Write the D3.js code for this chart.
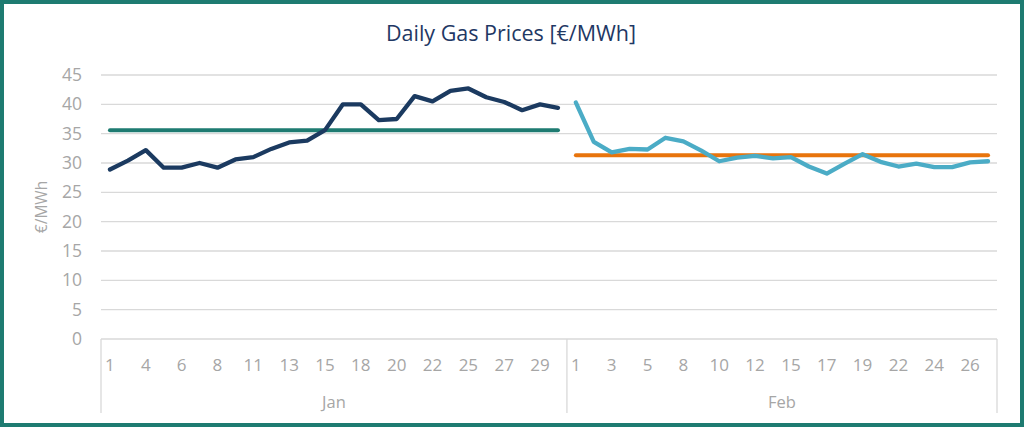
<!DOCTYPE html>
<html>
<head>
<meta charset="utf-8">
<script src="https://cdn.jsdelivr.net/npm/d3@7"></script>
<style>
  body { margin: 0; background: white; }
  text { font-family: "Open Sans", "Liberation Sans", sans-serif; }
</style>
</head>
<body>
<div id="data-vis"></div>
<script>
//DATA
//Trading days shown on the x axis (Sundays left out)
const janDays = [1, 3, 4, 5, 6, 7, 8, 10, 11, 12, 13, 14, 15, 17, 18, 19, 20, 21, 22, 24, 25, 26, 27, 28, 29, 31];
const febDays = [1, 2, 3, 4, 5, 7, 8, 9, 10, 11, 12, 14, 15, 16, 17, 18, 19, 21, 22, 23, 24, 25, 26, 28];

//Daily prices
const janPrices = [28.9, 30.4, 32.2, 29.2, 29.2, 30.0, 29.2, 30.6, 31.0, 32.4, 33.5, 33.8, 35.6,
                   40.0, 40.0, 37.3, 37.5, 41.4, 40.5, 42.3, 42.7, 41.2, 40.4, 39.0, 40.0, 39.4];
const febPrices = [40.3, 33.6, 31.8, 32.4, 32.3, 34.3, 33.7, 32.1, 30.3, 30.9, 31.2, 30.8,
                   31.0, 29.4, 28.2, 29.9, 31.5, 30.2, 29.4, 29.9, 29.3, 29.3, 30.1, 30.3];

//Monthly averages
const janAverage = 35.6;
const febAverage = 31.3;

//Y axis ticks
const yTicks = [0, 5, 10, 15, 20, 25, 30, 35, 40, 45];

//SCRIPT PROPERTIES
const w = 1024;
const h = 427;
const margin = {top: 75, right: 27, bottom: 88, left: 101};

const gridColour = "#d9d9d9";
const labelColour = "#a6a6a6";

//Build categories (one per day, grouped by month)
const categories = [];
janDays.forEach((d, i) => categories.push({key: "Jan-" + d, day: d, month: "Jan", idx: i, value: janPrices[i]}));
febDays.forEach((d, i) => categories.push({key: "Feb-" + d, day: d, month: "Feb", idx: i, value: febPrices[i]}));

const svg = d3.select("#data-vis")
    .append("svg")
    .attr("width", w)
    .attr("height", h);

//Frame
svg.append("rect")
    .attr("x", 2).attr("y", 2)
    .attr("width", w - 4).attr("height", h - 4)
    .attr("fill", "white")
    .attr("stroke", "#1e7b71")
    .attr("stroke-width", 4);

//Scales
const x = d3.scaleBand()
    .domain(categories.map(d => d.key))
    .range([margin.left, w - margin.right])
    .padding(0);

const y = d3.scaleLinear()
    .domain([0, 45])
    .range([h - margin.bottom, margin.top]);

const cx = key => x(key) + x.bandwidth() / 2;

//Title
svg.append("text")
    .attr("x", 511)
    .attr("y", 41)
    .attr("text-anchor", "middle")
    .attr("fill", "#1f3864")
    .style("font-size", "21.5px")
    .text("Daily Gas Prices [€/MWh]");

//Gridlines
svg.append("g")
    .selectAll("line")
    .data(yTicks.filter(t => t > 0))
    .enter()
    .append("line")
    .attr("x1", margin.left)
    .attr("x2", w - margin.right)
    .attr("y1", d => y(d))
    .attr("y2", d => y(d))
    .attr("stroke", gridColour)
    .attr("stroke-width", 1.3);

//Y axis labels
const yAxis = svg.append("g")
    .attr("transform", `translate(${margin.left},0)`)
    .call(d3.axisLeft(y).tickValues(yTicks).tickSize(0).tickPadding(19));
yAxis.select(".domain").remove();
yAxis.selectAll("text")
    .attr("fill", labelColour)
    .style("font-size", "17.5px")
    .style("font-family", "'Open Sans', sans-serif");

//Y axis title
svg.append("text")
    .attr("transform", `translate(47,${(y(0) + y(45)) / 2}) rotate(-90)`)
    .attr("text-anchor", "middle")
    .attr("fill", labelColour)
    .style("font-size", "15.5px")
    .text("€/MWh");

//X axis
const x0 = y(0);
svg.append("line")
    .attr("x1", margin.left).attr("x2", w - margin.right)
    .attr("y1", x0).attr("y2", x0)
    .attr("stroke", gridColour)
    .attr("stroke-width", 1.3);

//Month separators
const monthEdges = [margin.left, x("Feb-1"), w - margin.right];
svg.append("g")
    .selectAll("line")
    .data(monthEdges)
    .enter()
    .append("line")
    .attr("x1", d => d).attr("x2", d => d)
    .attr("y1", x0).attr("y2", 413)
    .attr("stroke", gridColour)
    .attr("stroke-width", 1.3);

//Day labels (every other category)
svg.append("g")
    .selectAll("text")
    .data(categories.filter(d => d.idx % 2 === 0))
    .enter()
    .append("text")
    .attr("x", d => cx(d.key))
    .attr("y", 371)
    .attr("text-anchor", "middle")
    .attr("fill", labelColour)
    .style("font-size", "17px")
    .text(d => d.day);

//Month labels
const months = [
    {name: "Jan", x: (monthEdges[0] + monthEdges[1]) / 2},
    {name: "Feb", x: (monthEdges[1] + monthEdges[2]) / 2}
];
svg.append("g")
    .selectAll("text")
    .data(months)
    .enter()
    .append("text")
    .attr("x", d => d.x)
    .attr("y", 408)
    .attr("text-anchor", "middle")
    .attr("fill", labelColour)
    .style("font-size", "16.5px")
    .text(d => d.name);

//Line generator
const line = d3.line()
    .x(d => cx(d.key))
    .y(d => y(d.value));

const janData = categories.filter(d => d.month === "Jan");
const febData = categories.filter(d => d.month === "Feb");

//Average lines
const drawAverage = (data, avg, colour) => {
    svg.append("path")
        .datum(data.map(d => ({key: d.key, value: avg})))
        .attr("d", line)
        .attr("fill", "none")
        .attr("stroke", colour)
        .attr("stroke-width", 4)
        .attr("stroke-linecap", "round");
};

drawAverage(janData, janAverage, "#1e7b71");
drawAverage(febData, febAverage, "#e8740c");

//Price lines
const drawSeries = (data, colour) => {
    svg.append("path")
        .datum(data)
        .attr("d", line)
        .attr("fill", "none")
        .attr("stroke", colour)
        .attr("stroke-width", 4.3)
        .attr("stroke-linejoin", "round")
        .attr("stroke-linecap", "round");
};

drawSeries(janData, "#1b3a60");
drawSeries(febData, "#4bacc6");
</script>
</body>
</html>
